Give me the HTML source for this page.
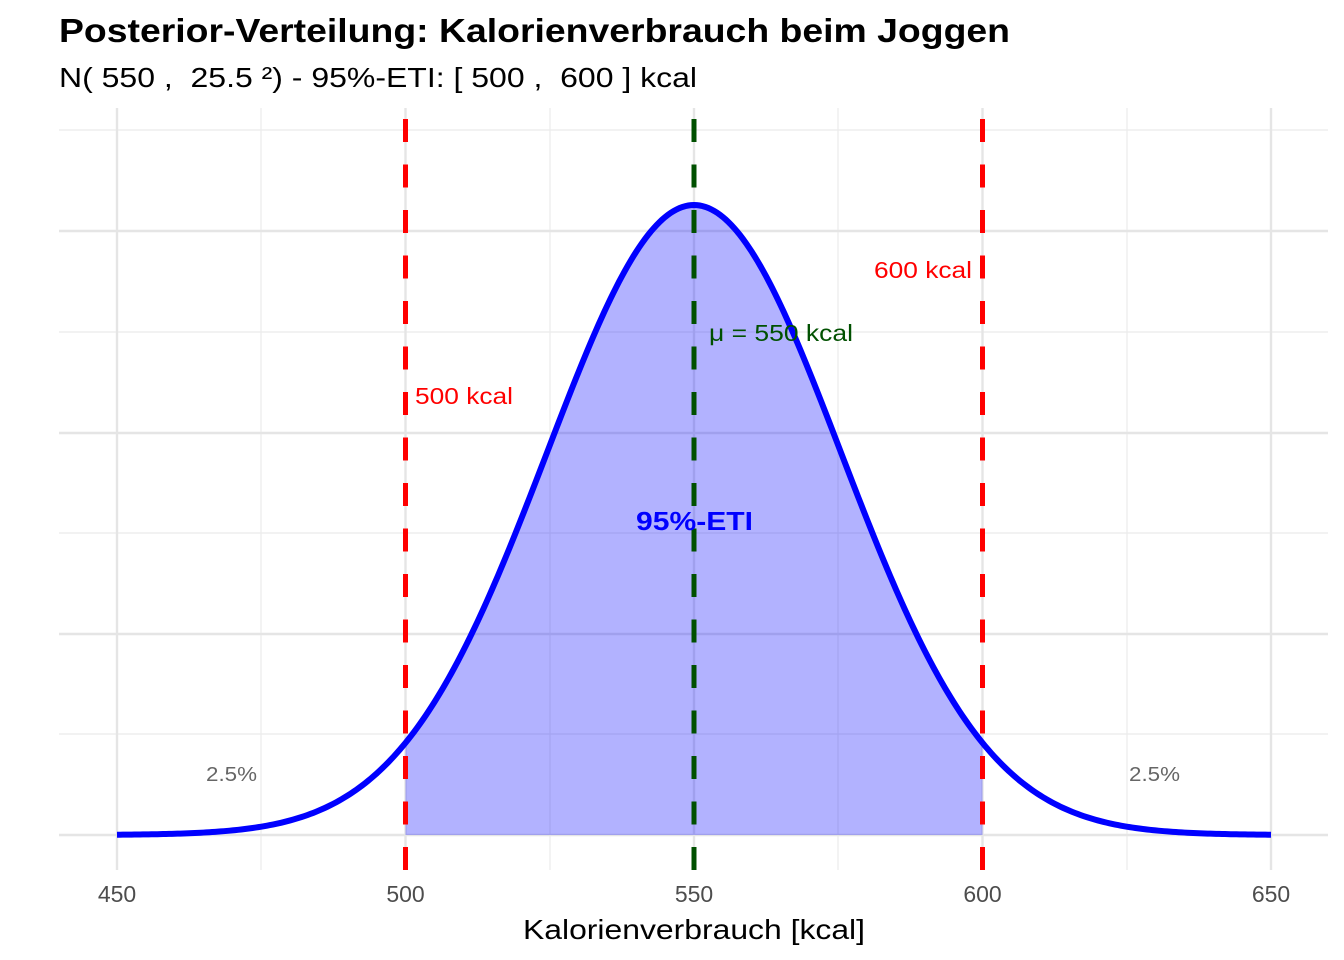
<!DOCTYPE html><html><head><meta charset="utf-8"><style>body{margin:0;background:#fff}svg{display:block}text{font-family:"Liberation Sans",Arial,sans-serif;white-space:pre}</style></head><body>
<svg id="s" width="1344" height="960" xmlns="http://www.w3.org/2000/svg">
<rect width="1344" height="960" fill="#fff"/>
<g stroke="#ebebeb" stroke-width="1.2">
<line x1="59" x2="1328" y1="130" y2="130"/><line x1="59" x2="1328" y1="332" y2="332"/><line x1="59" x2="1328" y1="533" y2="533"/><line x1="59" x2="1328" y1="734" y2="734"/>
<line x1="261" x2="261" y1="108" y2="870"/><line x1="550" x2="550" y1="108" y2="870"/><line x1="838" x2="838" y1="108" y2="870"/><line x1="1127" x2="1127" y1="108" y2="870"/>
</g>
<g stroke="#e5e5e5" stroke-width="2.4">
<line x1="59" x2="1328" y1="231" y2="231"/><line x1="59" x2="1328" y1="433" y2="433"/><line x1="59" x2="1328" y1="634" y2="634"/><line x1="59" x2="1328" y1="835" y2="835"/>
<line x1="117" x2="117" y1="108" y2="870"/><line x1="405.5" x2="405.5" y1="108" y2="870"/><line x1="694" x2="694" y1="108" y2="870"/><line x1="982.5" x2="982.5" y1="108" y2="870"/><line x1="1271" x2="1271" y1="108" y2="870"/>
</g>
<path id="fill" fill="#0000ff" fill-opacity="0.3"/>
<path id="curve" fill="none" stroke="#0000ff" stroke-width="6"/>
<g stroke-width="5" stroke-dasharray="23 22.5">
<line x1="405.5" x2="405.5" y1="119" y2="870" stroke="#ff0000"/>
<line x1="982.5" x2="982.5" y1="119" y2="870" stroke="#ff0000"/>
<line x1="694" x2="694" y1="119" y2="870" stroke="#005000"/>
</g>
<text x="415" y="404" font-size="23" fill="#ff0000" textLength="98" lengthAdjust="spacingAndGlyphs">500 kcal</text>
<text x="874" y="278" font-size="23" fill="#ff0000" textLength="98" lengthAdjust="spacingAndGlyphs">600 kcal</text>
<text x="709" y="341" font-size="23" fill="#005000" textLength="144" lengthAdjust="spacingAndGlyphs">μ = 550 kcal</text>
<text x="636" y="530" font-size="26" font-weight="bold" fill="#0000ff" textLength="117" lengthAdjust="spacingAndGlyphs">95%-ETI</text>
<text x="206" y="781" font-size="20" fill="#666" textLength="51" lengthAdjust="spacingAndGlyphs">2.5%</text>
<text x="1129" y="781" font-size="20" fill="#666" textLength="51" lengthAdjust="spacingAndGlyphs">2.5%</text>
<g font-size="23" fill="#4d4d4d" text-anchor="middle">
<text x="117" y="902">450</text><text x="405.5" y="902">500</text><text x="694" y="902">550</text><text x="982.5" y="902">600</text><text x="1271" y="902">650</text>
</g>
<text x="523" y="939" font-size="28" fill="#000" textLength="342" lengthAdjust="spacingAndGlyphs">Kalorienverbrauch [kcal]</text>
<text x="59" y="42" font-size="33" font-weight="bold" fill="#000" textLength="951" lengthAdjust="spacingAndGlyphs">Posterior-Verteilung: Kalorienverbrauch beim Joggen</text>
<text x="59" y="87" font-size="28" fill="#000" textLength="638" lengthAdjust="spacingAndGlyphs">N( 550 ,  25.5 ²) - 95%-ETI: [ 500 ,  600 ] kcal</text>
</svg>
<script>
var sx=function(v){return 117+(v-450)*5.77},sy=function(d){return 835-d*40267};
function f(v){return Math.exp(-0.5*Math.pow((v-550)/25.5,2))/(25.5*Math.sqrt(2*Math.PI))}
var c="",p="";for(var v=450;v<=650.001;v+=0.5){c+=(v==450?"M":"L")+sx(v).toFixed(2)+","+sy(f(v)).toFixed(2)}
p="M"+sx(500)+","+sy(0);for(var v=500;v<=600.001;v+=0.5){p+="L"+sx(v).toFixed(2)+","+sy(f(v)).toFixed(2)}p+="L"+sx(600)+","+sy(0)+"Z";
document.getElementById("curve").setAttribute("d",c);document.getElementById("fill").setAttribute("d",p);
</script>
</body></html>
